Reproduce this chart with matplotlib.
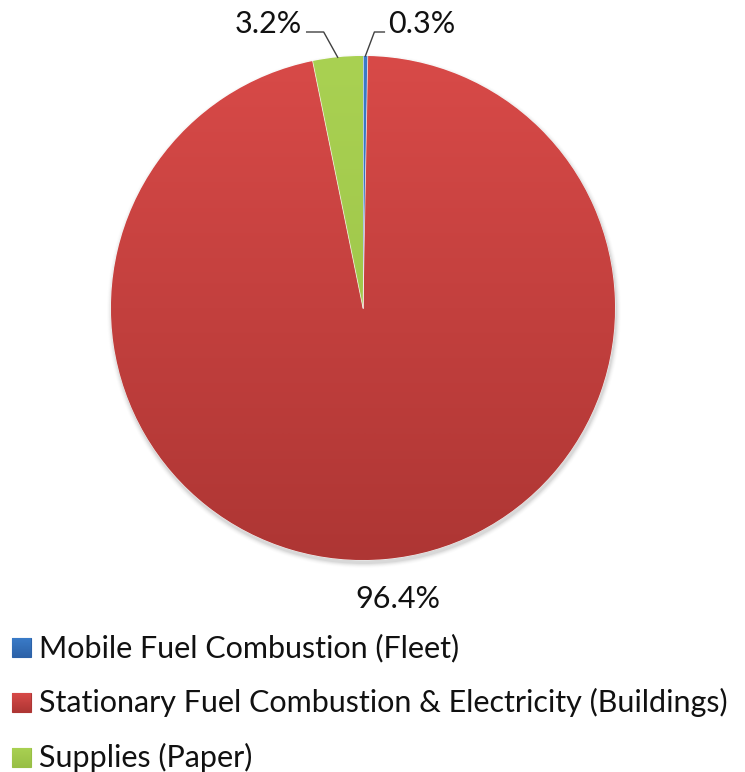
import matplotlib
matplotlib.use("Agg")
import matplotlib.pyplot as plt
from matplotlib.patches import Rectangle
from matplotlib.colors import LinearSegmentedColormap
import numpy as np

categories = ["Mobile Fuel Combustion (Fleet)",
              "Stationary Fuel Combustion & Electricity (Buildings)",
              "Supplies (Paper)"]
values = [0.3, 96.4, 3.2]
labels = ["0.3%", "96.4%", "3.2%"]
top_colors = ["#3A7BC8", "#D84A48", "#A9D152"]
bot_colors = ["#2C62A8", "#AE3634", "#98BF45"]

plt.rcParams['font.family'] = ['Lato', 'DejaVu Sans']

W, H = 745, 772
fig = plt.figure(figsize=(W / 100, H / 100), dpi=100)
ax = fig.add_axes([0, 0, 1, 1])

cx, cy, R = 363, H - 308, 252

# soft shadow
for i, a in enumerate(np.linspace(0.05, 0.01, 5)):
    ax.add_patch(plt.Circle((cx + 1, cy - 3), R + 1 + i, color="black", alpha=a, lw=0, zorder=0))

wedges, _ = ax.pie(values, colors=top_colors, startangle=90, counterclock=False,
                   center=(cx, cy), radius=R, frame=True,
                   wedgeprops=dict(linewidth=0.5, edgecolor="white"))

grad = np.linspace(1, 0, 256).reshape(-1, 1)
for w, tc, bc in zip(wedges, top_colors, bot_colors):
    w.set_zorder(2)
    cmap = LinearSegmentedColormap.from_list("g", [bc, tc])
    im = ax.imshow(grad, extent=[cx - R, cx + R, cy - R, cy + R], cmap=cmap,
                   origin="upper", aspect="auto", zorder=2.5, interpolation="bilinear")
    im.set_clip_path(w)

# light separators between slices
for w in wedges:
    th = np.deg2rad(w.theta2)
    ax.plot([cx, cx + R * np.cos(th)], [cy, cy + R * np.sin(th)], color="white",
            lw=0.6, alpha=0.7, zorder=3)

fs = 22
txt_color = "#111111"
for w, lab in zip(wedges, labels):
    mid = np.deg2rad((w.theta1 + w.theta2) / 2)
    ex, ey = cx + R * np.cos(mid), cy + R * np.sin(mid)
    if lab == "96.4%":
        ax.text(cx + 35, H - 608, lab, ha="center", va="baseline", fontsize=fs, color=txt_color)
    elif lab == "0.3%":
        ax.plot([ex, ex + 9, ex + 19], [ey, H - 32, H - 32], color="#404040", lw=1, zorder=4)
        ax.text(ex + 23, H - 33, lab, ha="left", va="baseline", fontsize=fs, color=txt_color)
    else:
        ax.plot([ex, ex - 14, ex - 31], [ey, H - 32, H - 32], color="#404040", lw=1, zorder=4)
        ax.text(ex - 36, H - 33, lab, ha="right", va="baseline", fontsize=fs, color=txt_color)

# legend (manual, square markers)
for i, (cat, tc, bc) in enumerate(zip(categories, top_colors, bot_colors)):
    base = H - (657 + 55 * i)
    rect = Rectangle((12, base), 19, 19, facecolor=tc, edgecolor=bc, lw=0.8, zorder=3)
    ax.add_patch(rect)
    cmap = LinearSegmentedColormap.from_list("g", [bc, tc])
    im = ax.imshow(grad, extent=[12, 31, base, base + 19], cmap=cmap, origin="upper",
                   aspect="auto", zorder=3.5, interpolation="bilinear")
    im.set_clip_path(rect)
    ax.text(39, base, cat, ha="left", va="baseline", fontsize=fs, color=txt_color)

ax.set_xlim(0, W)
ax.set_ylim(0, H)
ax.axis("off")
fig.savefig("out.png", dpi=100)
